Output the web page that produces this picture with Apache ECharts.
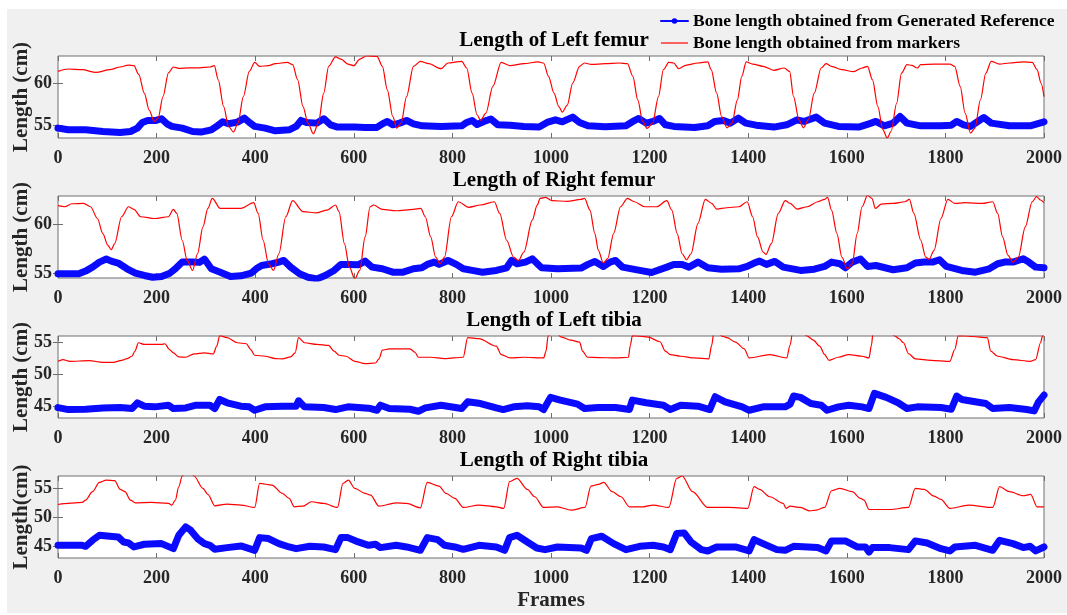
<!DOCTYPE html>
<html>
<head>
<meta charset="utf-8">
<script src="https://cdn.jsdelivr.net/npm/echarts@6/dist/echarts.min.js"></script>
<style>
  body { margin: 0; background: #fff; }
  #back { position: absolute; left: 7px; top: 9px; right: 0; bottom: 2px; background: #f0f0f0; }
  #chart { position: absolute; left: 0; top: 0; width: 1067px; height: 615px; }
</style>
</head>
<body>
<div id="back"></div>
<div id="chart"></div>
<script type="text/javascript">
	var refName = 'Bone length obtained from Generated Reference';
	var markerName = 'Bone length obtained from markers';
	var plotTitles = ['Length of Left femur', 'Length of Right femur', 'Length of Left tibia', 'Length of Right tibia'];
	var yNames = ['Length (cm)', 'Length (cm)', 'Length (cm)', 'Length(cm)'];
	var yMin = [53.5, 54.5, 43.2, 42.9];
	var yMax = [63.2, 62.95, 55.93, 57.1];
	var yTicks = [[55, 60], [55, 60], [45, 50, 55], [45, 50, 55]];

	// [frame, length] pairs
	var leftFemurRef = [[0,54.67],[21,54.47],[56,54.47],[91,54.27],[126,54.15],[147,54.27],[161,54.67],[171,55.34],[182,55.58],[199,55.58],[210,55.78],[221,55.18],[231,54.87],[252,54.67],[273,54.27],[290,54.2],[311,54.47],[323,54.94],[334,55.42],[346,55.18],[364,55.38],[378,55.85],[388,55.34],[399,54.87],[420,54.67],[441,54.35],[469,54.47],[483,54.87],[493,55.58],[504,55.34],[525,55.26],[539,55.78],[553,55.06],[567,54.79],[602,54.79],[623,54.75],[647,54.75],[658,55.18],[668,55.46],[679,55.06],[693,55.26],[707,55.58],[721,55.18],[739,54.94],[777,54.87],[819,54.94],[829,55.34],[840,55.58],[850,55.1],[864,55.46],[878,55.74],[892,55.06],[917,55.02],[945,54.87],[976,54.79],[992,55.34],[1009,55.65],[1023,55.42],[1044,55.97],[1058,55.34],[1075,54.94],[1110,54.83],[1152,54.94],[1166,55.46],[1178,55.81],[1193,55.26],[1207,55.46],[1220,55.81],[1232,55.06],[1249,54.87],[1291,54.75],[1318,54.94],[1332,55.46],[1350,55.58],[1364,55.26],[1380,55.85],[1395,55.26],[1416,55.02],[1452,54.79],[1478,55.06],[1499,55.65],[1513,55.46],[1538,55.97],[1555,55.26],[1583,54.87],[1624,54.79],[1645,55.18],[1659,55.46],[1676,54.94],[1694,55.26],[1708,56.05],[1722,55.26],[1750,54.94],[1791,54.94],[1812,55.02],[1823,55.46],[1837,55.06],[1851,54.87],[1865,55.42],[1878,55.93],[1893,55.26],[1930,54.94],[1972,54.94],[1986,55.18],[2000,55.42]];
	var leftFemurMarkers = [[0,61.38],[21,61.66],[49,61.58],[77,61.26],[105,61.58],[126,61.9],[143,62.13],[154,62.05],[164,61.0],[175,58.8],[185,56.8],[195,55.46],[203,55.85],[213,58.4],[224,61.2],[234,61.9],[245,61.74],[266,61.8],[287,61.8],[308,61.9],[317,62.05],[325,60.4],[336,57.2],[346,54.86],[356,54.2],[365,55.26],[376,58.4],[388,61.38],[399,62.45],[409,61.98],[427,62.05],[441,62.3],[465,62.45],[476,62.17],[486,60.4],[497,57.2],[507,55.26],[518,54.0],[528,55.26],[539,58.8],[549,61.98],[563,63.1],[574,62.84],[588,62.25],[600,62.05],[612,62.84],[626,63.2],[647,63.16],[658,61.98],[668,59.2],[679,56.05],[687,54.67],[696,55.26],[707,58.4],[721,61.98],[735,62.57],[752,62.3],[777,61.7],[791,62.37],[819,62.57],[829,61.78],[840,58.8],[850,56.25],[857,55.58],[868,56.45],[882,59.6],[899,62.45],[917,62.05],[945,62.3],[974,62.5],[985,62.37],[995,60.8],[1006,58.8],[1016,57.2],[1023,56.56],[1033,57.4],[1044,60.0],[1058,61.98],[1068,62.37],[1082,62.2],[1110,62.3],[1138,62.37],[1155,62.3],[1166,60.8],[1176,58.0],[1186,55.46],[1195,54.63],[1206,55.26],[1218,58.4],[1228,61.58],[1239,62.45],[1249,62.37],[1259,61.7],[1273,62.1],[1298,62.37],[1318,62.5],[1325,61.58],[1336,58.8],[1346,56.05],[1357,54.7],[1367,55.26],[1378,58.0],[1387,60.8],[1396,62.5],[1409,62.25],[1430,61.98],[1452,61.5],[1473,61.78],[1484,61.38],[1492,58.4],[1503,55.65],[1512,54.7],[1522,55.65],[1534,58.8],[1548,61.78],[1558,62.3],[1569,61.98],[1590,61.58],[1614,61.34],[1631,61.78],[1642,61.98],[1652,60.4],[1663,57.2],[1673,54.5],[1682,53.5],[1690,54.3],[1701,57.6],[1711,61.18],[1722,62.17],[1732,62.1],[1743,61.78],[1750,62.17],[1777,62.25],[1809,62.25],[1819,61.98],[1830,59.6],[1840,56.45],[1851,54.08],[1860,54.67],[1871,58.0],[1882,61.18],[1893,62.57],[1910,62.25],[1930,62.37],[1958,62.5],[1976,62.45],[1986,61.58],[1994,60.0],[2000,58.4]];

	var rightFemurRef = [[0,54.93],[21,54.93],[42,54.93],[56,55.21],[70,55.62],[84,56.14],[98,56.45],[108,56.24],[122,56.04],[140,55.45],[157,55.0],[175,54.76],[192,54.58],[210,54.65],[227,55.0],[238,55.45],[252,56.14],[273,56.14],[287,56.11],[297,56.45],[311,55.45],[329,55.1],[350,54.65],[371,54.72],[392,55.0],[402,55.45],[413,55.79],[434,55.97],[448,56.14],[458,56.31],[472,55.62],[490,54.93],[507,54.58],[525,54.41],[542,54.76],[560,55.28],[574,55.9],[588,55.9],[609,55.86],[623,56.24],[637,55.62],[658,55.45],[679,55.1],[700,55.1],[721,55.45],[738,55.55],[749,55.9],[763,56.14],[773,55.9],[791,56.31],[808,55.9],[822,55.45],[840,55.28],[861,55.1],[889,55.28],[910,55.55],[920,56.31],[931,55.97],[948,56.14],[962,56.48],[976,55.79],[981,55.55],[1013,55.45],[1061,55.52],[1075,55.9],[1089,56.21],[1106,55.69],[1120,56.14],[1131,56.31],[1145,55.62],[1180,55.28],[1204,55.07],[1235,55.62],[1249,55.9],[1266,55.9],[1280,55.62],[1298,56.14],[1318,55.55],[1346,55.41],[1381,55.45],[1398,55.69],[1412,56.04],[1423,56.24],[1437,55.9],[1454,56.21],[1471,55.62],[1506,55.28],[1534,55.41],[1555,55.69],[1569,56.14],[1586,55.97],[1597,55.55],[1611,56.14],[1628,56.45],[1642,55.69],[1659,55.79],[1694,55.35],[1722,55.55],[1739,56.04],[1757,56.14],[1774,56.14],[1788,56.38],[1802,55.69],[1833,55.28],[1861,55.1],[1889,55.45],[1906,55.97],[1920,56.14],[1937,56.14],[1958,56.48],[1969,56.14],[1983,55.62],[2000,55.55]];
	var rightFemurMarkers = [[0,61.95],[14,61.84],[28,62.15],[52,62.19],[66,61.84],[80,60.63],[91,59.08],[101,57.87],[108,57.42],[115,58.04],[129,60.81],[143,61.84],[154,61.57],[168,60.81],[196,60.63],[224,60.81],[234,61.57],[241,61.15],[252,58.39],[262,56.31],[273,55.28],[283,57.0],[294,59.77],[304,61.67],[313,62.71],[329,61.67],[371,61.67],[397,62.26],[406,61.15],[416,58.39],[427,55.97],[437,55.28],[448,57.0],[462,60.81],[476,62.47],[497,61.33],[525,61.22],[546,61.5],[563,62.02],[570,61.33],[581,58.04],[591,55.62],[602,54.41],[612,55.28],[623,58.73],[633,61.84],[640,62.02],[658,61.57],[686,61.43],[721,61.57],[736,61.67],[745,60.81],[756,58.73],[766,56.66],[775,55.97],[784,56.66],[798,60.81],[812,62.36],[833,61.78],[857,62.02],[885,62.36],[896,61.15],[910,58.39],[924,56.66],[934,56.31],[945,57.18],[962,60.46],[972,62.0],[978,62.71],[989,62.81],[1002,62.47],[1033,62.4],[1061,62.6],[1068,62.71],[1079,61.5],[1089,59.08],[1096,57.35],[1106,56.04],[1115,56.49],[1127,59.08],[1141,61.84],[1155,62.71],[1169,62.36],[1190,61.84],[1214,61.84],[1235,62.47],[1245,61.5],[1256,59.08],[1266,57.0],[1275,56.38],[1284,57.0],[1298,60.11],[1313,62.6],[1326,62.19],[1336,61.6],[1357,61.74],[1381,61.84],[1398,62.36],[1409,60.81],[1419,58.73],[1430,57.18],[1436,56.94],[1447,58.04],[1461,61.15],[1475,62.47],[1485,62.19],[1499,61.6],[1520,61.84],[1541,62.36],[1555,62.6],[1561,62.81],[1569,61.5],[1580,59.08],[1590,56.66],[1601,55.45],[1611,55.97],[1621,59.08],[1631,61.84],[1642,63.0],[1651,62.71],[1658,61.67],[1670,62.12],[1694,62.19],[1718,62.36],[1727,62.6],[1736,61.15],[1750,58.39],[1760,56.66],[1767,56.42],[1777,57.35],[1791,60.63],[1805,62.6],[1819,62.19],[1840,62.26],[1875,62.19],[1896,62.36],[1906,61.15],[1916,58.73],[1927,56.83],[1937,56.14],[1948,56.66],[1962,59.77],[1976,62.36],[1985,62.88],[1993,62.54],[2000,62.26]];

	var leftTibiaRef = [[0,44.82],[21,44.51],[56,44.56],[91,44.77],[126,44.82],[150,44.67],[161,45.56],[175,45.03],[196,44.93],[224,45.19],[234,44.67],[259,44.77],[280,45.19],[308,45.19],[318,44.67],[328,46.08],[343,45.56],[371,45.03],[388,44.93],[399,44.4],[420,44.93],[455,45.03],[483,45.03],[488,45.87],[500,44.93],[539,44.82],[563,44.51],[588,44.93],[630,44.72],[647,44.4],[654,45.19],[672,44.67],[714,44.56],[731,44.25],[745,44.77],[777,45.19],[819,44.67],[831,45.71],[857,45.45],[889,44.77],[903,44.51],[924,44.93],[952,45.09],[976,44.93],[985,44.51],[999,46.4],[1019,45.98],[1054,45.35],[1068,44.67],[1096,44.82],[1131,44.82],[1159,44.51],[1165,45.98],[1193,45.56],[1228,45.19],[1242,44.51],[1263,45.19],[1298,45.03],[1322,44.51],[1333,46.5],[1353,45.71],[1388,44.93],[1402,44.4],[1430,44.93],[1475,44.93],[1485,45.35],[1492,46.61],[1506,46.4],[1527,45.45],[1548,45.19],[1560,44.4],[1583,44.93],[1604,45.19],[1631,44.93],[1645,44.67],[1656,47.02],[1680,46.4],[1704,45.56],[1722,44.67],[1743,44.93],[1791,44.82],[1812,44.56],[1823,46.61],[1833,46.08],[1882,45.45],[1896,44.67],[1930,44.82],[1965,44.51],[1980,44.3],[1989,45.71],[2000,46.76]];
	var leftTibiaMarkers = [[0,52.0],[10,52.26],[24,52.0],[63,52.1],[91,51.84],[112,51.84],[129,52.16],[140,52.42],[150,52.79],[156,53.57],[163,54.88],[175,54.62],[210,54.62],[217,54.73],[226,53.83],[234,53.31],[245,52.68],[259,52.63],[276,53.15],[297,53.31],[315,53.15],[322,54.36],[328,56.0],[343,55.67],[364,54.88],[382,54.73],[391,53.83],[399,52.94],[420,52.79],[441,52.42],[455,52.37],[472,52.68],[481,53.31],[488,55.67],[500,54.88],[525,54.62],[549,54.46],[560,53.57],[570,52.94],[584,52.79],[602,52.0],[623,51.63],[644,51.74],[651,52.37],[658,53.73],[672,53.94],[714,53.94],[724,53.41],[731,52.63],[756,52.63],[784,52.42],[822,52.63],[831,55.67],[854,55.51],[889,54.36],[899,53.05],[917,52.52],[945,52.63],[985,52.52],[990,53.6],[994,55.9],[1003,56.8],[1012,56.4],[1020,55.8],[1040,55.3],[1058,54.99],[1064,53.57],[1074,52.63],[1096,52.58],[1131,52.52],[1157,52.63],[1161,54.5],[1165,56.0],[1180,55.9],[1197,55.77],[1221,55.04],[1232,53.57],[1242,53.05],[1263,52.79],[1291,52.52],[1320,52.37],[1326,54.5],[1330,56.3],[1340,56.2],[1350,55.85],[1357,55.67],[1374,54.99],[1392,53.94],[1402,52.52],[1444,53.05],[1478,52.52],[1485,54.5],[1490,56.5],[1505,56.6],[1518,56.0],[1532,55.3],[1545,54.36],[1555,53.05],[1564,52.16],[1583,52.63],[1604,53.05],[1631,52.79],[1645,52.52],[1650,54.5],[1653,56.3],[1670,56.8],[1690,56.3],[1698,55.9],[1706,55.5],[1715,54.88],[1725,53.2],[1739,52.37],[1771,52.16],[1809,52.0],[1819,53.83],[1826,55.95],[1840,55.93],[1855,55.85],[1885,55.67],[1892,53.57],[1906,52.79],[1937,52.26],[1972,52.0],[1983,52.26],[1993,54.88],[1997,55.9],[2000,56.6]];

	var rightTibiaRef = [[0,45.1],[49,45.1],[56,44.93],[70,45.97],[84,46.84],[105,46.67],[122,46.55],[133,45.68],[143,45.51],[154,44.81],[175,45.28],[210,45.39],[234,44.52],[245,46.84],[259,48.29],[269,47.71],[283,46.26],[297,45.39],[308,45.1],[318,44.41],[343,44.7],[371,44.99],[399,44.23],[409,46.43],[427,46.26],[448,45.39],[469,44.81],[483,44.52],[511,44.93],[539,44.81],[563,44.35],[574,46.43],[588,46.43],[609,45.68],[630,45.1],[644,45.28],[654,44.7],[686,45.1],[707,44.81],[735,44.23],[749,46.43],[770,46.09],[784,45.1],[805,44.81],[822,44.41],[854,45.1],[889,44.81],[906,44.23],[916,46.43],[931,46.84],[952,45.68],[971,44.64],[988,44.35],[1013,44.81],[1061,44.64],[1072,44.23],[1082,46.26],[1103,46.67],[1127,45.39],[1152,44.35],[1180,44.93],[1207,45.1],[1228,44.81],[1242,44.35],[1255,47.13],[1270,47.25],[1284,45.68],[1305,44.35],[1318,44.12],[1336,44.81],[1374,44.81],[1402,44.12],[1412,46.09],[1430,45.39],[1458,44.35],[1475,44.23],[1492,44.93],[1541,44.7],[1558,44.12],[1569,45.86],[1597,45.86],[1621,44.81],[1638,44.81],[1645,43.94],[1652,44.7],[1687,44.7],[1725,44.35],[1739,45.86],[1763,45.51],[1791,44.52],[1809,44.12],[1819,44.81],[1861,45.1],[1896,44.23],[1910,45.97],[1937,45.39],[1958,44.7],[1972,44.93],[1983,44.12],[2000,44.81]];
	var rightTibiaMarkers = [[0,52.17],[21,52.35],[49,52.52],[56,52.93],[70,54.38],[84,56.0],[98,56.4],[115,56.29],[126,54.78],[136,54.38],[147,52.93],[157,52.46],[189,52.52],[224,52.35],[231,52.06],[238,52.93],[245,55.25],[252,57.1],[260,57.8],[270,57.6],[276,57.1],[294,54.96],[304,53.91],[318,51.94],[343,52.23],[371,52.06],[399,51.65],[409,55.82],[434,55.53],[455,54.09],[469,53.22],[479,51.77],[497,51.88],[514,52.64],[539,52.35],[567,51.65],[578,55.82],[589,56.4],[602,54.96],[623,54.09],[634,53.8],[651,51.88],[686,52.46],[707,52.35],[735,51.59],[749,56.0],[773,55.36],[787,54.09],[805,53.22],[822,51.65],[854,52.06],[889,51.77],[904,51.48],[916,56.11],[931,56.69],[952,54.78],[967,53.51],[985,51.65],[1013,51.77],[1041,51.19],[1069,51.65],[1081,55.36],[1096,55.65],[1107,56.0],[1124,54.38],[1142,53.51],[1159,51.77],[1187,51.77],[1207,52.06],[1239,51.65],[1255,56.69],[1266,57.1],[1287,54.38],[1318,51.65],[1360,51.65],[1399,51.48],[1412,55.25],[1423,54.78],[1444,53.51],[1471,52.35],[1477,51.48],[1485,51.88],[1506,51.65],[1524,51.07],[1538,51.19],[1555,51.65],[1569,54.55],[1586,54.96],[1611,54.38],[1628,53.22],[1635,52.93],[1645,51.3],[1687,51.3],[1725,51.65],[1739,54.96],[1757,54.78],[1777,53.62],[1791,53.04],[1809,51.48],[1847,52.06],[1896,51.65],[1910,55.25],[1930,54.38],[1958,53.68],[1973,53.91],[1986,51.77],[2000,51.77]];

	var refData = [leftFemurRef, rightFemurRef, leftTibiaRef, rightTibiaRef];
	var markerData = [leftFemurMarkers, rightFemurMarkers, leftTibiaMarkers, rightTibiaMarkers];

	var serif = '"Liberation Serif", "Times New Roman", serif';
	var frameColor = '#6e6e6e';
	var tops = [56, 196, 336, 476];

	var grids = [], xAxes = [], yAxes = [], series = [], graphics = [];
	for (var i = 0; i < 4; i++) {
		grids.push({ left: 58, top: tops[i], width: 986, height: 82, show: true, outerBoundsMode: 'none',
			backgroundColor: '#fff', borderColor: frameColor, borderWidth: 1 });
		var tick = { show: true, inside: true, length: 5, lineStyle: { color: frameColor } };
		xAxes.push({ gridIndex: i, type: 'value', min: 0, max: 2000, interval: 200,
			axisLine: { show: false }, splitLine: { show: false }, axisTick: tick,
			axisLabel: { margin: 11, color: '#262626', fontFamily: serif, fontWeight: 'bold', fontSize: 18,
				formatter: function (v) { return String(v); } },
			name: i == 3 ? 'Frames' : '', nameLocation: 'middle', nameGap: 32,
			nameTextStyle: { color: '#262626', fontFamily: serif, fontWeight: 'bold', fontSize: 21 } });
		xAxes.push({ gridIndex: i, type: 'value', position: 'top', min: 0, max: 2000, interval: 200,
			axisLine: { show: false }, splitLine: { show: false }, axisTick: tick, axisLabel: { show: false } });
		var ytick = { show: true, inside: true, length: 5, customValues: yTicks[i], lineStyle: { color: frameColor } };
		yAxes.push({ gridIndex: i, type: 'value', min: yMin[i], max: yMax[i],
			axisLine: { show: false }, splitLine: { show: false }, axisTick: ytick,
			axisLabel: { customValues: yTicks[i], margin: 6, color: '#262626', fontFamily: serif, fontWeight: 'bold', fontSize: 18 },
			name: yNames[i], nameLocation: 'middle', nameGap: 26, nameMoveOverlap: false,
			nameTextStyle: { color: '#262626', fontFamily: serif, fontWeight: 'bold', fontSize: 21 } });
		yAxes.push({ gridIndex: i, type: 'value', position: 'right', min: yMin[i], max: yMax[i],
			axisLine: { show: false }, splitLine: { show: false }, axisTick: ytick, axisLabel: { show: false } });
		series.push({ name: refName, type: 'line', xAxisIndex: 2 * i, yAxisIndex: 2 * i,
			data: refData[i], symbol: 'circle', showSymbol: false, color: '#0000ff',
			lineStyle: { width: 7, color: '#0a0aff', cap: 'round', join: 'round' }, animation: false });
		series.push({ name: markerName, type: 'line', xAxisIndex: 2 * i, yAxisIndex: 2 * i,
			data: markerData[i], symbol: 'none', smooth: 0.3, smoothMonotone: 'x', color: '#ff0000',
			lineStyle: { width: 1.2, color: '#ff0000' }, animation: false });
		graphics.push({ type: 'text', x: 554, y: tops[i] - 15,
			style: { text: plotTitles[i], align: 'center', verticalAlign: 'middle',
				fontFamily: serif, fontWeight: 'bold', fontSize: 21, fill: '#000' } });
	}

	var option = {
		backgroundColor: 'transparent',
		legend: {
			orient: 'vertical', left: 660, top: 12, padding: 0,
			itemWidth: 27, itemHeight: 7, itemGap: 4,
			textStyle: { color: '#000', fontFamily: serif, fontWeight: 'bold', fontSize: 17.5 },
			data: [
				{ name: refName, lineStyle: { width: 2 } },
				{ name: markerName, itemStyle: { opacity: 0 }, lineStyle: { width: 1.2 } }
			]
		},
		grid: grids,
		xAxis: xAxes,
		yAxis: yAxes,
		series: series,
		graphic: graphics
	};

	var chart = echarts.init(document.getElementById('chart'));
	chart.setOption(option);
</script>
</body>
</html>
